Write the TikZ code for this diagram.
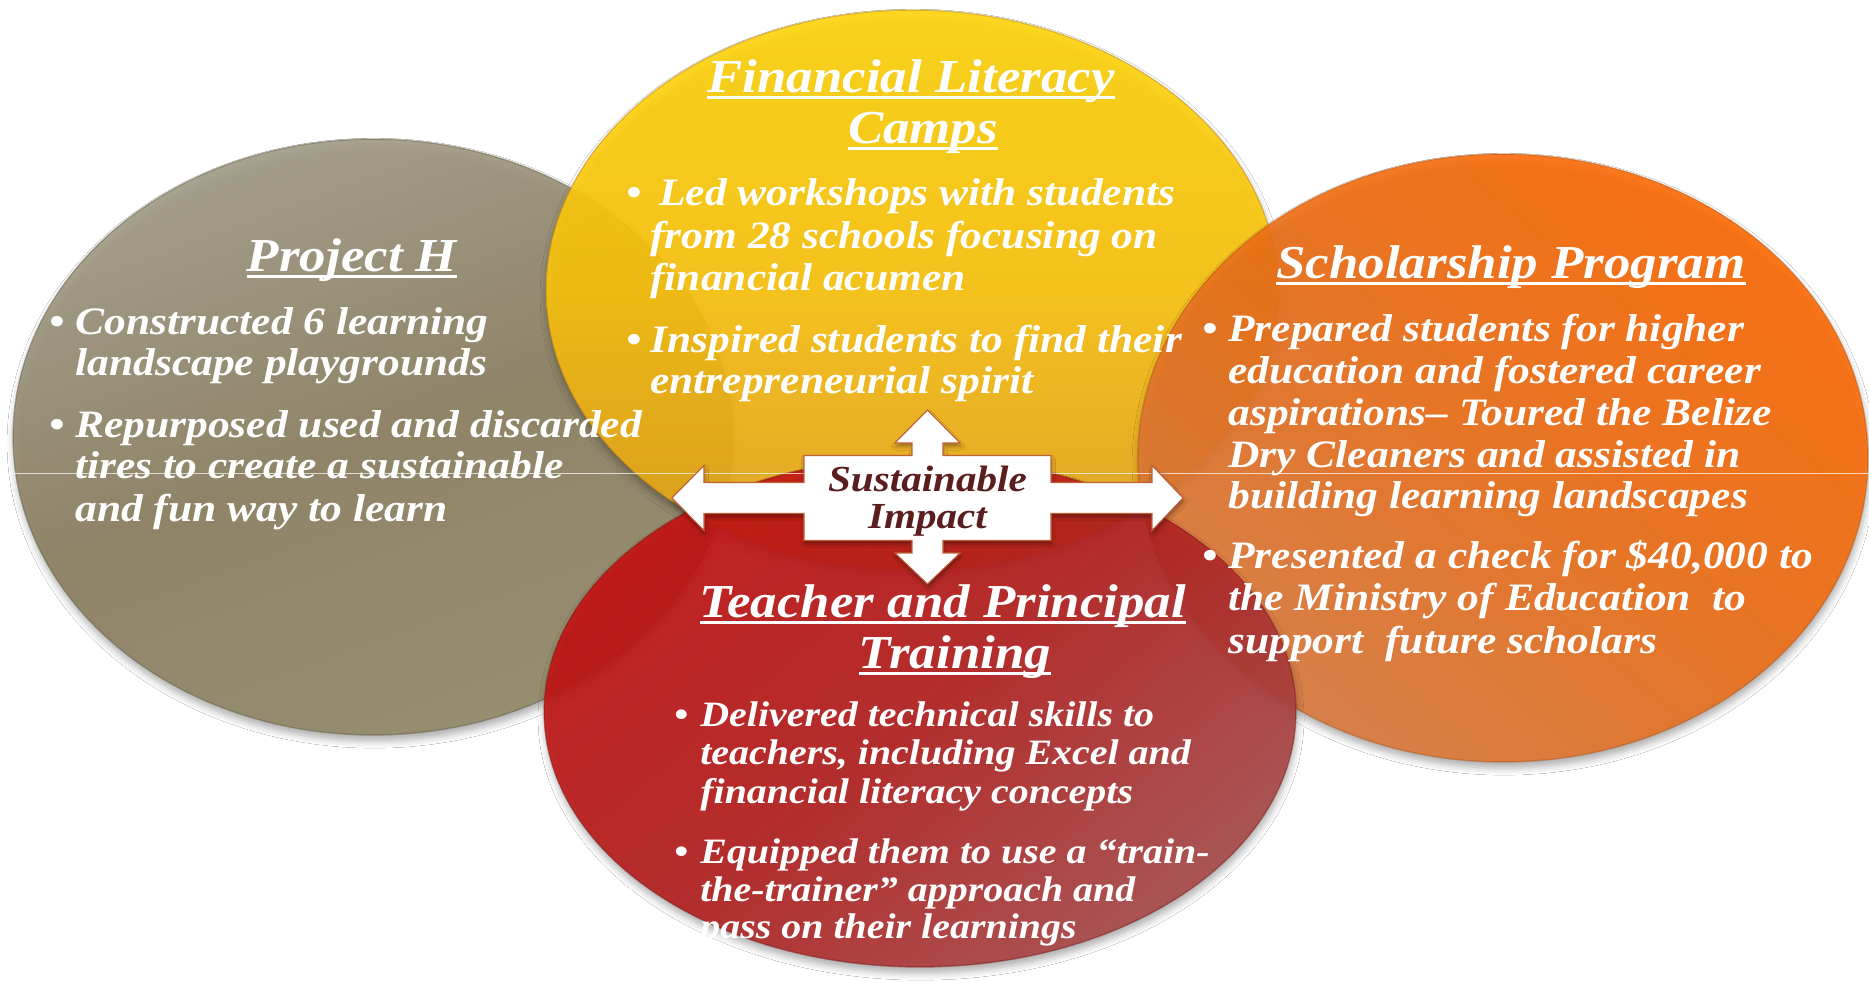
\documentclass[tikz,border=0pt]{standalone}
\usepackage{fontspec}
\usetikzlibrary{shapes.geometric,shadows.blur}

\newfontfamily\geo[FakeStretch=1.12]{Liberation Serif}
\newcommand\bodyfont{\geo\bfseries\itshape\fontsize{22.1pt}{25pt}\selectfont}
\newcommand\smallbody{\geo\bfseries\itshape\fontsize{20.3pt}{23pt}\selectfont}
\newcommand\titlefont{\geo\bfseries\itshape\fontsize{26.9pt}{30pt}\selectfont}
\newcommand\hubfont{\geo\bfseries\itshape\fontsize{20.9pt}{22pt}\selectfont}

% underlined heading text
\newsavebox\ulbox
\newcommand\ulined[1]{\sbox\ulbox{#1}\rlap{\rule[-0.145em]{\wd\ulbox}{0.06em}}\usebox\ulbox}

\definecolor{grayA}{HTML}{A29C88}
\definecolor{grayB}{HTML}{8C8061}
\definecolor{grayC}{HTML}{958A69}
\definecolor{yelA}{HTML}{FFD60A}
\definecolor{yelB}{HTML}{FCC40E}
\definecolor{yelC}{HTML}{E5A01E}
\definecolor{orgA}{HTML}{FF6A04}
\definecolor{orgB}{HTML}{EC6F18}
\definecolor{orgC}{HTML}{DA7B40}
\definecolor{redA}{HTML}{C41212}
\definecolor{redB}{HTML}{B3201F}
\definecolor{redC}{HTML}{A94B4B}
\definecolor{hubtext}{HTML}{5A1E1E}
\definecolor{hubedge}{HTML}{C0603A}

\tikzset{
  bubble/.style={ellipse, inner sep=0pt, fill opacity=0.9, draw opacity=0.45,
    line width=0.8pt,
    blur shadow={shadow xshift=0.6pt, shadow yshift=-3.5pt, shadow blur radius=4pt, shadow opacity=35}},
  ptxt/.style={text=white, inner sep=0pt, anchor=base west, font=\bodyfont},
  rtxt/.style={text=white, inner sep=0pt, anchor=base west, font=\smallbody},
  dot/.style={text=white, inner sep=0pt, anchor=base, font=\bodyfont},
  rdot/.style={text=white, inner sep=0pt, anchor=base, font=\smallbody},
  ttl/.style={text=white, inner sep=0pt, anchor=base, font=\titlefont},
  hubline/.style={text=hubtext, inner sep=0pt, anchor=base, font=\hubfont},
  crossshape/.style={fill=white, draw=hubedge, line width=0.6pt, line join=miter,
    blur shadow={shadow xshift=0.5pt, shadow yshift=-2pt, shadow blur radius=2pt, shadow opacity=35}},
}

\begin{document}
\begin{tikzpicture}[x=0.02cm, y=-0.02cm]
\useasboundingbox (0,0) rectangle (1869,981);
\fill[white] (0,0) rectangle (1869,981);

% the four programme bubbles
\node[bubble, minimum width=14.4cm, minimum height=11.92cm,
  top color=grayA, bottom color=grayC, middle color=grayB, shading angle=20,
  draw=grayB!70!black] (projh) at (373,437) {};
\node[bubble, minimum width=14.64cm, minimum height=11.2cm,
  top color=yelA, bottom color=yelC, middle color=yelB, shading angle=0,
  draw=yelC!80!black] (camps) at (912,290) {};
\node[bubble, minimum width=14.6cm, minimum height=12.16cm,
  top color=orgA, bottom color=orgC, middle color=orgB, shading angle=-40,
  draw=orgB!75!black] (scholar) at (1503,458) {};
\node[bubble, minimum width=15.04cm, minimum height=10.2cm,
  top color=redA, bottom color=redC, middle color=redB, shading angle=40,
  draw=redB!70!black] (training) at (920,712) {};

% thin light rule across the picture
\coordinate (ruleL) at (13,473);
\coordinate (ruleR) at (1869,473);
\draw[white, opacity=0.7, line width=0.5pt] (ruleL) -- (ruleR);

% central four-way arrow with its box
\coordinate (hubc) at (927.5,498);
\begin{scope}[shift={(hubc)}]
\path[crossshape]
  (-123.5,-42.5) -- (-15.5,-42.5) -- (-15.5,-55) -- (-32.5,-55) -- (0,-88)
  -- (32.5,-55) -- (15.5,-55) -- (15.5,-42.5) -- (123.5,-42.5)
  -- (123.5,-15.5) -- (224.5,-15.5) -- (224.5,-32.5) -- (255.5,0)
  -- (224.5,32.5) -- (224.5,15.5) -- (123.5,15.5) -- (123.5,42.5)
  -- (15.5,42.5) -- (15.5,55) -- (32.5,55) -- (0,86)
  -- (-32.5,55) -- (-15.5,55) -- (-15.5,42.5) -- (-123.5,42.5)
  -- (-123.5,15.5) -- (-223.5,15.5) -- (-223.5,32.5) -- (-255.5,0)
  -- (-223.5,-32.5) -- (-223.5,-15.5) -- (-123.5,-15.5) -- cycle;
\end{scope}
\node[hubline] (hub1) at (927.5,491) {Sustainable};
\node[hubline] (hub2) at (927.5,528) {Impact};

% Project H
\node[ttl] (tph) at (352,271) {\ulined{Project H}};
\node[dot] (ph-b1) at (57,334) {\textbullet};
\node[ptxt] (ph-1) at (75,334) {Constructed 6 learning};
\node[ptxt] (ph-2) at (75,375) {landscape playgrounds};
\node[dot] (ph-b2) at (57,437) {\textbullet};
\node[ptxt] (ph-3) at (75,437) {Repurposed used and discarded};
\node[ptxt] (ph-4) at (75,478) {tires to create a sustainable};
\node[ptxt] (ph-5) at (75,521) {and fun way to learn};

% Financial Literacy Camps
\node[ttl] (tfl1) at (911,92) {\ulined{Financial Literacy}};
\node[ttl] (tfl2) at (923,143) {\ulined{Camps}};
\node[dot] (fl-b1) at (634,205) {\textbullet};
\node[ptxt] (fl-1) at (659,205) {Led workshops with students};
\node[ptxt] (fl-2) at (650,248) {from 28 schools focusing on};
\node[ptxt] (fl-3) at (650,290) {financial acumen};
\node[dot] (fl-b2) at (634,352) {\textbullet};
\node[ptxt] (fl-4) at (650,352) {Inspired students to find their};
\node[ptxt] (fl-5) at (650,393) {entrepreneurial spirit};

% Scholarship Program
\node[ttl] (tsp) at (1511,278) {\ulined{Scholarship Program}};
\node[dot] (sp-b1) at (1210,341) {\textbullet};
\node[ptxt] (sp-1) at (1228,341) {Prepared students for higher};
\node[ptxt] (sp-2) at (1228,383) {education and fostered career};
\node[ptxt] (sp-3) at (1228,425) {aspirations– Toured the Belize};
\node[ptxt] (sp-4) at (1228,467) {Dry Cleaners and assisted in};
\node[ptxt] (sp-5) at (1228,508) {building learning landscapes};
\node[dot] (sp-b2) at (1210,568) {\textbullet};
\node[ptxt] (sp-6) at (1228,568) {Presented a check for \$40,000 to};
\node[ptxt] (sp-7) at (1228,610) {the Ministry of Education\ \ to};
\node[ptxt] (sp-8) at (1228,653) {support\ \ future scholars};

% Teacher and Principal Training
\node[ttl] (ttp1) at (943,617) {\ulined{Teacher and Principal}};
\node[ttl] (ttp2) at (955,668) {\ulined{Training}};
\node[rdot] (tp-b1) at (681,726) {\textbullet};
\node[rtxt] (tp-1) at (700,726) {Delivered technical skills to};
\node[rtxt] (tp-2) at (700,764) {teachers, including Excel and};
\node[rtxt] (tp-3) at (700,803) {financial literacy concepts};
\node[rdot] (tp-b2) at (681,863) {\textbullet};
\node[rtxt] (tp-4) at (700,863) {Equipped them to use a “train-};
\node[rtxt] (tp-5) at (700,901) {the-trainer” approach and};
\node[rtxt] (tp-6) at (700,938) {pass on their learnings};
\end{tikzpicture}
\end{document}
